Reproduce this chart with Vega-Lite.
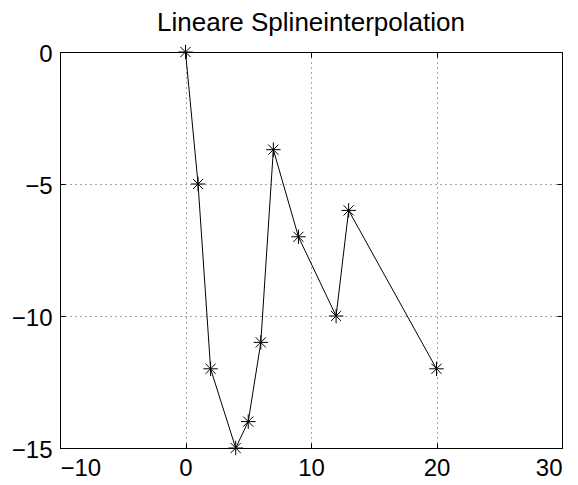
{
  "$schema": "https://vega.github.io/schema/vega-lite/v6.json",
  "width": 502,
  "height": 396,
  "autosize": "none",
  "padding": {"left": 60, "top": 52, "right": 16, "bottom": 37},
  "background": "white",
  "title": {"text": "Lineare Splineinterpolation", "fontSize": 26, "font": "Liberation Sans", "fontWeight": "normal", "color": "black", "offset": 6},
  "config": {
    "view": {"stroke": "black", "strokeWidth": 1},
    "axis": {"domain": false, "labelFont": "Liberation Sans", "labelFontSize": 24, "labelColor": "black", "tickColor": "black", "tickSize": -5, "gridColor": "black", "gridDash": [1, 4], "gridOpacity": 0.7, "title": null}
  },
  "data": {"values": [
    {"x": 0, "y": 0}, {"x": 1, "y": -5}, {"x": 2, "y": -12}, {"x": 4, "y": -15},
    {"x": 5, "y": -14}, {"x": 6, "y": -11}, {"x": 7, "y": -3.7}, {"x": 9, "y": -7},
    {"x": 12, "y": -10}, {"x": 13, "y": -6}, {"x": 20, "y": -12}
  ]},
  "layer": [
    {
      "mark": {"type": "line", "color": "black", "strokeWidth": 1, "clip": false},
      "encoding": {
        "x": {"field": "x", "type": "quantitative", "scale": {"domain": [-10, 30], "nice": false, "zero": false}, "axis": {"orient": "bottom", "values": [-10, 0, 10, 20, 30], "grid": true, "labelPadding": 13}},
        "y": {"field": "y", "type": "quantitative", "scale": {"domain": [-15, 0], "nice": false, "zero": false}, "axis": {"orient": "left", "values": [-15, -10, -5, 0], "grid": true, "labelPadding": 13, "labelOffset": 2}}
      }
    },
    {
      "mark": {"type": "point", "shape": "M-1,0L1,0M0,-1L0,1M-0.7,-0.7L0.7,0.7M-0.7,0.7L0.7,-0.7", "size": 210, "filled": false, "stroke": "black", "strokeWidth": 1, "opacity": 1, "clip": false},
      "encoding": {
        "x": {"field": "x", "type": "quantitative", "scale": {"domain": [-10, 30], "nice": false, "zero": false}, "axis": {"orient": "top", "values": [-10, 0, 10, 20, 30], "labels": false, "grid": false}},
        "y": {"field": "y", "type": "quantitative", "scale": {"domain": [-15, 0], "nice": false, "zero": false}, "axis": {"orient": "right", "values": [-15, -10, -5, 0], "labels": false, "grid": false}}
      }
    }
  ],
  "resolve": {"axis": {"x": "independent", "y": "independent"}}
}
